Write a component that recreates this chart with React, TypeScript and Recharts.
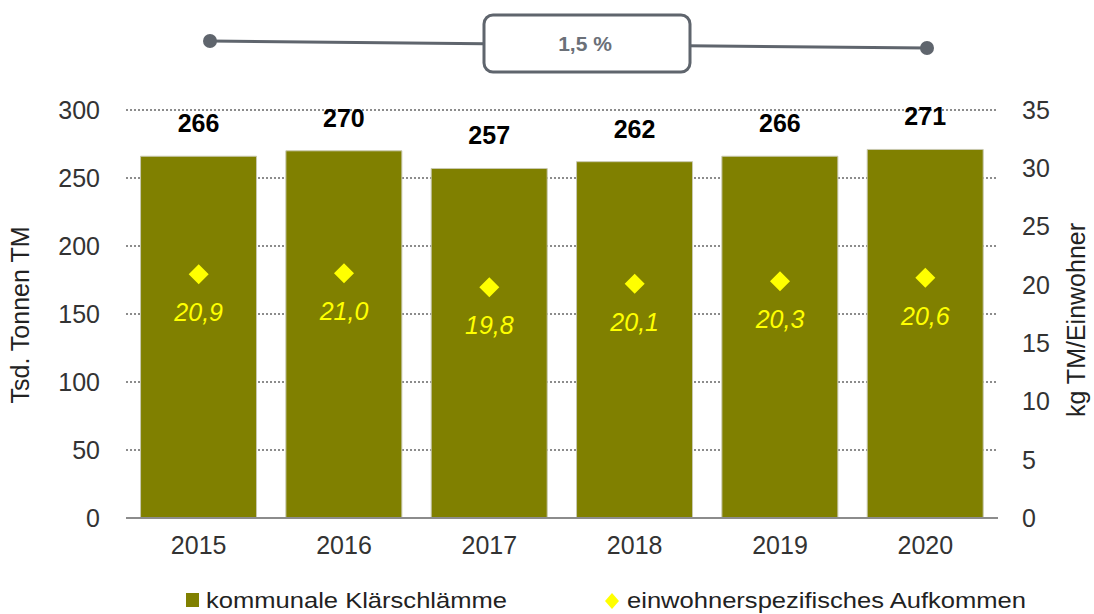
import { ComposedChart, Bar, Line, XAxis, YAxis, CartesianGrid, LabelList } from 'recharts'

const years = ['2015', '2016', '2017', '2018', '2019', '2020']
const sludge = [266, 270, 257, 262, 266, 271]
const perCapita = [20.9, 21.0, 19.8, 20.1, 20.3, 20.6]
const leftTicks = [0, 50, 100, 150, 200, 250, 300]
const rightTicks = [0, 5, 10, 15, 20, 25, 30, 35]

const data = years.map((year, i) => ({ year, sludge: sludge[i], perCapita: perCapita[i] }))

const FONT = '"Liberation Sans", Arial, sans-serif'
const OLIVE = '#808000'
const YELLOW = '#ffff00'
const GREY = '#5f656d'

// eslint-disable-next-line @typescript-eslint/no-explicit-any
function Diamond({ cx, cy }: any) {
  if (cx == null || cy == null) return null
  const r = 10
  return (
    <polygon
      points={`${cx},${cy - r} ${cx + r},${cy} ${cx},${cy + r} ${cx - r},${cy}`}
      fill={YELLOW}
    />
  )
}

// eslint-disable-next-line @typescript-eslint/no-explicit-any
function TotalLabel({ x, y, width, value }: any) {
  return (
    <text
      x={x + width / 2}
      y={y - 33}
      textAnchor="middle"
      dominantBaseline="central"
      fontFamily={FONT}
      fontSize={25}
      fontWeight="bold"
      fill="#000"
    >
      {value}
    </text>
  )
}

// eslint-disable-next-line @typescript-eslint/no-explicit-any
function PerCapitaLabel({ x, y, value }: any) {
  return (
    <text
      x={x}
      y={y + 38}
      textAnchor="middle"
      dominantBaseline="central"
      fontFamily={FONT}
      fontSize={25}
      fontStyle="italic"
      fill={YELLOW}
    >
      {Number(value).toFixed(1).replace('.', ',')}
    </text>
  )
}

export default function App() {
  const tick = { fontSize: 25, fill: '#333', fontFamily: FONT }
  return (
    <div style={{ position: 'absolute', left: 0, top: 0, width: 1094, height: 614, background: '#fff' }}>
      <ComposedChart
        width={1094}
        height={614}
        data={data}
        margin={{ top: 110, right: 0, bottom: 0, left: 0 }}
        barCategoryGap="10%"
      >
        <CartesianGrid
          yAxisId="left"
          vertical={false}
          stroke="#8c8c8c"
          strokeWidth={2}
          strokeDasharray="2 2"
        />
        <XAxis
          dataKey="year"
          height={96}
          tick={tick}
          tickLine={false}
          tickSize={0}
          tickMargin={18}
          axisLine={{ stroke: '#8c8c8c', strokeWidth: 2 }}
        />
        <YAxis
          yAxisId="left"
          width={126}
          domain={[0, 300]}
          ticks={leftTicks}
          tick={tick}
          tickLine={false}
          tickSize={0}
          tickMargin={26}
          axisLine={false}
        />
        <YAxis
          yAxisId="right"
          orientation="right"
          width={96}
          domain={[0, 35]}
          ticks={rightTicks}
          tick={tick}
          tickLine={false}
          tickSize={0}
          tickMargin={24}
          axisLine={false}
        />
        <Bar yAxisId="left" dataKey="sludge" fill={OLIVE} stroke="#c9c9b0" strokeWidth={1} isAnimationActive={false}>
          <LabelList dataKey="sludge" content={<TotalLabel />} />
        </Bar>
        <Line
          yAxisId="right"
          dataKey="perCapita"
          stroke="none"
          dot={<Diamond />}
          activeDot={false}
          isAnimationActive={false}
        >
          <LabelList dataKey="perCapita" content={<PerCapitaLabel />} />
        </Line>
      </ComposedChart>
      <svg
        width={1094}
        height={614}
        style={{ position: 'absolute', left: 0, top: 0, pointerEvents: 'none' }}
      >
        {/* growth annotation */}
        <line x1={210} y1={41} x2={927} y2={48} stroke={GREY} strokeWidth={3} />
        <circle cx={210} cy={41} r={7} fill={GREY} />
        <circle cx={927} cy={48} r={7} fill={GREY} />
        <rect x={484} y={15} width={206} height={57} rx={9} fill="#fff" stroke={GREY} strokeWidth={3} />
        <text x={585} y={43} textAnchor="middle" dominantBaseline="central" fontFamily={FONT} fontSize={21} fontWeight="bold" fill="#6b7078">
          1,5 %
        </text>
        {/* axis titles */}
        <text
          transform="translate(20,315) rotate(-90)"
          textAnchor="middle"
          dominantBaseline="central"
          fontFamily={FONT}
          fontSize={25}
          fill="#222"
        >
          Tsd. Tonnen TM
        </text>
        <text
          transform="translate(1076,320) rotate(-90)"
          textAnchor="middle"
          dominantBaseline="central"
          fontFamily={FONT}
          fontSize={25}
          fill="#222"
        >
          kg TM/Einwohner
        </text>
        {/* legend */}
        <rect x={186} y={593} width={13} height={14} fill={OLIVE} />
        <text x={206} y={600} dominantBaseline="central" fontFamily={FONT} fontSize={22} fill="#222" textLength={301} lengthAdjust="spacingAndGlyphs">
          kommunale Klärschlämme
        </text>
        <polygon points="612,593 619,601 612,609 605,601" fill={YELLOW} />
        <text x={627} y={600} dominantBaseline="central" fontFamily={FONT} fontSize={22} fill="#222" textLength={399} lengthAdjust="spacingAndGlyphs">
          einwohnerspezifisches Aufkommen
        </text>
      </svg>
    </div>
  )
}
